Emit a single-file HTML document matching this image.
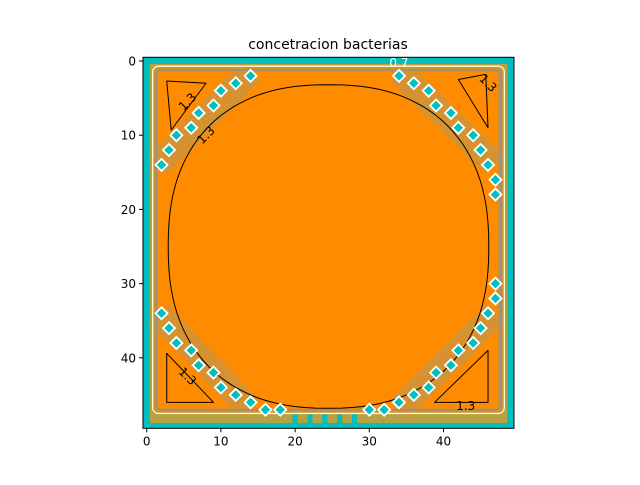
<!DOCTYPE html>
<html><head><meta charset="utf-8"><style>
html,body{margin:0;padding:0;background:#fff;}
svg text{font-family:"DejaVu Sans","Liberation Sans",sans-serif;}
</style></head><body>
<svg id="chart" width="640" height="480" viewBox="0 0 640 480" xmlns="http://www.w3.org/2000/svg">
<text x="328" y="49" font-size="14" text-anchor="middle" fill="#000">concetracion bacterias</text>
<g id="plot"></g>
<g id="axes"></g>
</svg>
<script>
const xTicks=[0,10,20,30,40];
const yTicks=[0,10,20,30,40];
const markerX=[14,12,10,9,7,6,4,3,2, 34,36,38,39,41,42,44,45,46,47,47, 47,47,46,45,44,42,41,39,38,36,34,32,30, 2,3,4,6,7,9,10,12,14,16,18];
const markerY=[2,3,4,6,7,9,10,12,14, 2,3,4,6,7,9,10,12,14,16,18, 30,32,34,36,38,39,41,42,44,45,46,47,47, 34,36,38,39,41,42,44,45,46,47,47];
const notchX=[20,22,24,26,28];
const labelText=["1.3","1.3","1.3","1.3","1.3"];
const labelX=[5.5,8,46,5.5,43];
const labelY=[5.5,10,3,42.5,46.5];
const labelRot=[-45,-45,45,45,0];

const NS="http://www.w3.org/2000/svg";
const x0=146.7,y0=61,s=7.42;
const X=v=>x0+v*s, Y=v=>y0+v*s;
const plot=document.getElementById('plot'), axes=document.getElementById('axes');
function mk(tag,attrs,parent){const e=document.createElementNS(NS,tag);for(const k in attrs)e.setAttribute(k,attrs[k]);parent.appendChild(e);return e;}
const L=X(-0.5),T=Y(-0.5),W=50*s;
let e;
e=mk('rect',{x:L,y:T,width:W,height:W,fill:'#00bfbf'},plot);


e=mk('rect',{x:X(0.4),y:Y(0.4),width:X(48.6)-X(0.4),height:Y(48.8)-Y(0.4),fill:'#b9a040'},plot);


e=mk('rect',{x:X(0.9),y:Y(0.9),width:X(48)-X(0.9),height:Y(47.5)-Y(0.9),rx:6,fill:'#d09030'},plot);


e=mk('path',{d:`M${X(1.5)},${Y(1.5)} H${X(47.3)} V${Y(46.8)} H${X(1.5)} Z`,fill:'#ff8c00'},plot);


const band=[[14,1.5,1.5,14],[34,1.5,47,14],[47,34,34,47],[1.5,34,14,47]];
band.forEach(b=>{e=mk('line',{x1:X(b[0]),y1:Y(b[1]),x2:X(b[2]),y2:Y(b[3]),stroke:'#c99540','stroke-width':26,opacity:0.75},plot);

});
notchX.forEach(n=>{e=mk('rect',{x:X(n-0.35),y:Y(47.6),width:0.7*s,height:Y(49.5)-Y(47.6),fill:'#00bfbf'},plot);

});
e=mk('rect',{x:X(0.8),y:Y(0.7),width:X(48.2)-X(0.8),height:Y(47.5)-Y(0.7),rx:6,fill:'none',stroke:'#fffbd0','stroke-width':1.3},plot);


e=mk('rect',{x:X(1.3),y:Y(1.2),width:X(47.7)-X(1.3),height:Y(47)-Y(1.2),rx:5,fill:'none',stroke:'#909090','stroke-width':1.3},plot);


let pts=[];
for(let i=0;i<=120;i++){const a=i/120*2*Math.PI;const c=Math.cos(a),sn=Math.sin(a);
const px=24.5+21.6*Math.sign(c)*Math.pow(Math.abs(c),0.85);
const py=25+21.8*Math.sign(sn)*Math.pow(Math.abs(sn),0.85);
pts.push(X(px).toFixed(1)+','+Y(py).toFixed(1));}
e=mk('path',{d:'M'+pts.join(' L')+' Z',fill:'none',stroke:'#000','stroke-width':1},plot);


const tris=[[[2.7,2.7],[8,3],[3.3,9.3]],[[42,2.5],[45.7,1.8],[46,9]],[[2.7,39.4],[9,46],[2.7,46]],[[46,39],[46,46],[38.8,46]]];
tris.forEach(t=>{e=mk('path',{d:'M'+t.map(p=>X(p[0])+','+Y(p[1])).join(' L')+' Z',fill:'none',stroke:'#000','stroke-width':1,'stroke-linejoin':'round'},plot);

});
markerX.forEach((mx,i)=>{const cx=X(mx),cy=Y(markerY[i]),r=6;
e=mk('path',{d:`M${cx},${cy-r} L${cx+r},${cy} L${cx},${cy+r} L${cx-r},${cy} Z`,fill:'#00bfbf',stroke:'#fff','stroke-width':1.8},plot);

});
labelText.forEach((t,i)=>{e=mk('text',{x:X(labelX[i]),y:Y(labelY[i])+4,'font-size':12,'text-anchor':'middle',fill:'#000',transform:`rotate(${labelRot[i]} ${X(labelX[i])} ${Y(labelY[i])})`},plot);e.textContent=t;

});
e=mk('text',{x:X(34),y:Y(0.8),'font-size':12,'text-anchor':'middle',fill:'#fff'},plot);e.textContent='0.7';


e=mk('rect',{x:L,y:T,width:W,height:W,fill:'none',stroke:'#000','stroke-width':1},axes);


xTicks.forEach(v=>{mk('line',{x1:X(v),y1:T+W,x2:X(v),y2:T+W+4,stroke:'#000'},axes);
e=mk('text',{x:X(v),y:T+W+17,'font-size':12,'text-anchor':'middle'},axes);e.textContent=v;

});
yTicks.forEach(v=>{mk('line',{x1:L-4,y1:Y(v),x2:L,y2:Y(v),stroke:'#000'},axes);
e=mk('text',{x:L-7,y:Y(v)+4.5,'font-size':12,'text-anchor':'end'},axes);e.textContent=v;

});
</script>
</body></html>
